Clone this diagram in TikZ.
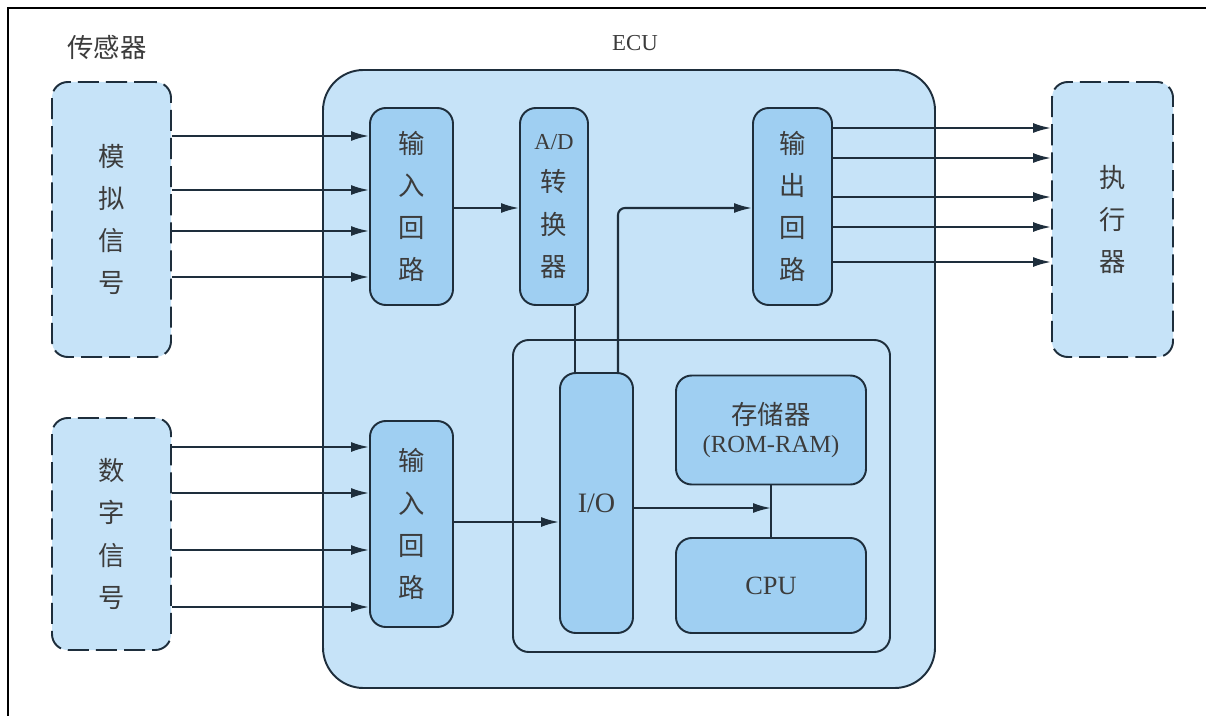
\documentclass[tikz,border=0pt]{standalone}
\usepackage{fontspec}
\setmainfont{Liberation Serif}
\newfontfamily\cjk{Noto Sans CJK SC}
\usetikzlibrary{arrows.meta}
\definecolor{ecufill}{HTML}{C6E3F8}
\definecolor{blkfill}{HTML}{9FCFF2}
\definecolor{edge}{HTML}{1E2E3C}
\definecolor{txt}{HTML}{3C3C3C}
\begin{document}
\begin{tikzpicture}[x=0.02cm,y=-0.02cm,
  lw/.style={line width=1.1pt},
  sensorbox/.style={draw=edge,lw,dash pattern=on 12pt off 4pt,fill=ecufill,rounded corners=9pt,
     text=txt,font=\cjk\fontsize{15}{24}\selectfont,align=center,inner sep=0pt},
  ecubox/.style={draw=edge,lw,fill=ecufill,rounded corners=23pt,inner sep=0pt},
  framebox/.style={draw=edge,lw,fill=ecufill,rounded corners=9pt,inner sep=0pt},
  blk/.style={draw=edge,lw,fill=blkfill,rounded corners=9pt,inner sep=0pt,
     text=txt,font=\cjk\fontsize{15}{24}\selectfont,align=center},
  conn/.style={draw=edge,line width=1.2pt},
  arr/.style={conn,-{Latex[length=3.6mm,width=2mm]}},
  lbl/.style={text=txt,inner sep=0pt}
]
\useasboundingbox (0,0) rectangle (1206,716);
\fill[white] (0,0) rectangle (1206,716);
% frame
\coordinate (fbl) at (8,716);
\coordinate (ftl) at (8,8);
\coordinate (ftr) at (1206,8);
\draw[line width=1.6pt,black] (fbl) -- (ftl) -- (ftr);

% labels
\node[lbl,font=\cjk\fontsize{15}{18}\selectfont] (lsens) at (107,47) {传感器};
\node[lbl,font=\fontsize{13}{15}\selectfont] (lecu) at (635,43) {ECU};

% sensors and actuator
\node[sensorbox,minimum width=119*0.02cm,minimum height=275*0.02cm] (s1) at (111.5,219.5) {模\\拟\\信\\号};
\node[sensorbox,minimum width=119*0.02cm,minimum height=232*0.02cm] (s2) at (111.5,534) {数\\字\\信\\号};
\node[sensorbox,minimum width=121*0.02cm,minimum height=275*0.02cm] (act) at (1112.5,219.5) {执\\行\\器};

% ECU
\node[ecubox,minimum width=612*0.02cm,minimum height=618*0.02cm] (ecu) at (629,379) {};
\node[framebox,minimum width=377*0.02cm,minimum height=312*0.02cm] (comp) at (701.5,496) {};

% blocks
\node[blk,minimum width=83*0.02cm,minimum height=197*0.02cm] (in1) at (411.5,206.5) {输\\入\\回\\路};
\node[blk,minimum width=68*0.02cm,minimum height=197*0.02cm] (ad) at (554,206.5) {{\rmfamily\fontsize{13}{15}\selectfont A/D}\\转\\换\\器};
\node[blk,minimum width=79*0.02cm,minimum height=197*0.02cm] (out) at (792.5,206.5) {输\\出\\回\\路};
\node[blk,minimum width=83*0.02cm,minimum height=206*0.02cm] (in2) at (411.5,524) {输\\入\\回\\路};
\node[blk,minimum width=73*0.02cm,minimum height=260*0.02cm,font=\fontsize{16}{18}\selectfont] (io) at (596.5,503) {I/O};
\node[blk,minimum width=190*0.02cm,minimum height=109*0.02cm,font=\fontsize{15}{15}\selectfont] (mem) at (771,430)
   {{\cjk 存储器}\\[1pt]{\fontsize{14}{14}\selectfont (ROM-RAM)}};
\node[blk,minimum width=190*0.02cm,minimum height=95*0.02cm,font=\fontsize{15}{18}\selectfont] (cpu) at (771,585.5) {CPU};

% analog inputs
\foreach \yy in {136,190,231,277}{
  \coordinate (t) at (0,\yy);
  \draw[arr] (s1.east |- t) -- (in1.west |- t);
}
% digital inputs
\foreach \yy in {447,493,550,607}{
  \coordinate (t) at (0,\yy);
  \draw[arr] (s2.east |- t) -- (in2.west |- t);
}
% outputs
\foreach \yy in {128,158,197,227,262}{
  \coordinate (t) at (0,\yy);
  \draw[arr] (out.east |- t) -- (act.west |- t);
}
% internal connections
\coordinate (y208) at (0,208);
\draw[arr] (in1.east |- y208) -- (ad.west |- y208);
\coordinate (x575) at (575,0);
\draw[conn] (ad.south -| x575) -- (io.north -| x575);
\coordinate (x618) at (618,0);
\draw[arr,rounded corners=4pt] (io.north -| x618) |- (out.west |- y208);
\coordinate (y522) at (0,522);
\draw[arr] (in2.east |- y522) -- (io.west |- y522);
\draw[conn] (mem.south) -- (cpu.north);
\coordinate (y508) at (0,508);
\draw[arr] (io.east |- y508) -- (mem.south |- y508);
\end{tikzpicture}
\end{document}
